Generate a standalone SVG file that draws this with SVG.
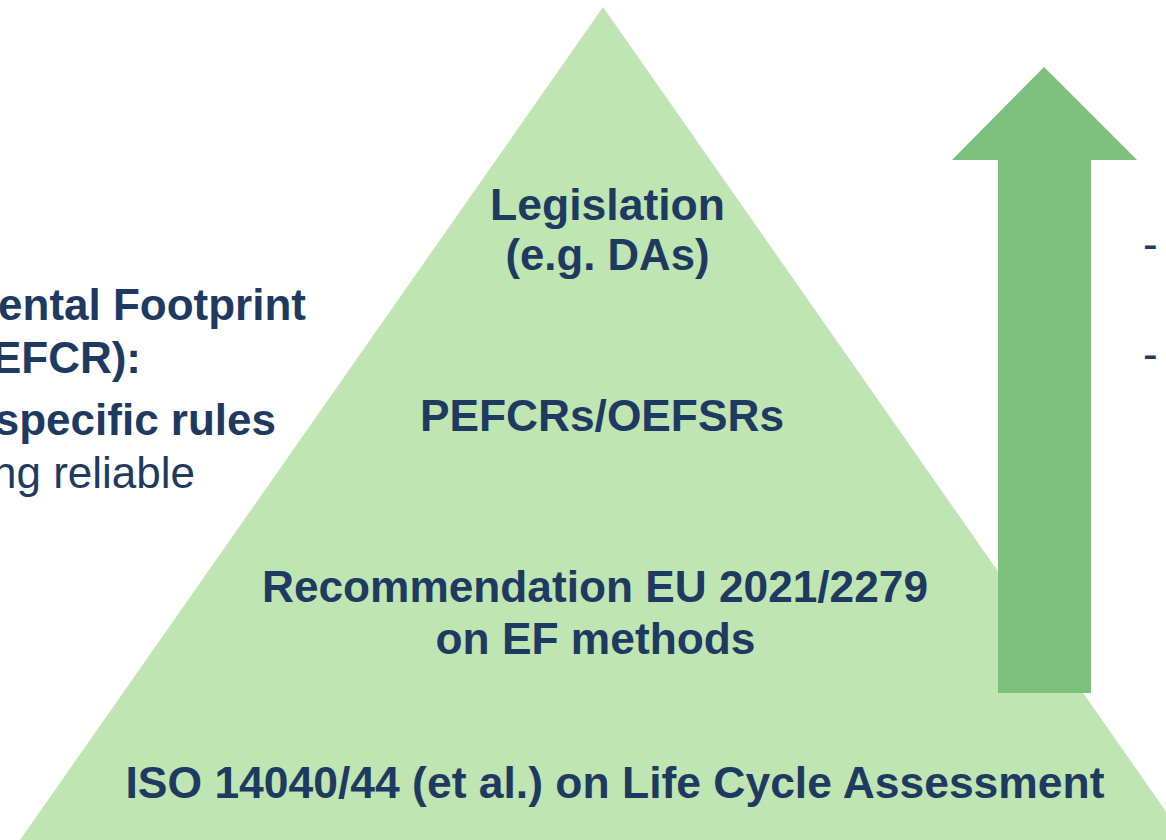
<svg xmlns="http://www.w3.org/2000/svg" width="1166" height="840" viewBox="0 0 1166 840">
  <style>
    .lbl { font-family: "Liberation Sans", Arial, sans-serif; font-weight: bold; font-size: 44.4px; fill: #1F3A60; text-anchor: middle; }
    .side { font-family: "Liberation Sans", Arial, sans-serif; font-weight: bold; font-size: 44px; fill: #1F3A60; text-anchor: end; }
    .side-reg { font-family: "Liberation Sans", Arial, sans-serif; font-size: 44px; fill: #1F3A60; text-anchor: end; }
    .dash { font-family: "Liberation Sans", Arial, sans-serif; font-size: 44px; fill: #1F3A60; }
  </style>
  <rect width="1166" height="840" fill="#FFFFFF"/>

  <!-- pyramid of EF rule levels -->
  <g id="pyramid">
    <polygon points="603,7 1186,840 20,840" fill="#BEE5B2"/>
  </g>

  <!-- upward arrow -->
  <g id="arrow">
    <polygon points="1044,67 1137,160 1091,160 1091,693 998,693 998,160 952,160" fill="#7DC07B"/>
  </g>

  <g id="level-legislation">
    <text class="lbl" x="607.5" y="220" textLength="235" lengthAdjust="spacingAndGlyphs">Legislation</text>
    <text class="lbl" x="607.5" y="270" textLength="204" lengthAdjust="spacingAndGlyphs">(e.g. DAs)</text>
  </g>
  <g id="level-pefcr">
    <text class="lbl" x="602" y="431" textLength="364" lengthAdjust="spacingAndGlyphs">PEFCRs/OEFSRs</text>
  </g>
  <g id="level-recommendation">
    <text class="lbl" x="595" y="602" textLength="666" lengthAdjust="spacingAndGlyphs">Recommendation EU 2021/2279</text>
    <text class="lbl" x="595.5" y="654" textLength="320" lengthAdjust="spacingAndGlyphs">on EF methods</text>
  </g>
  <g id="level-iso">
    <text class="lbl" x="615" y="798" textLength="979" lengthAdjust="spacingAndGlyphs">ISO 14040/44 (et al.) on Life Cycle Assessment</text>
  </g>

  <!-- left-hand description -->
  <g id="left-text">
    <text class="side" x="306" y="320">ental Footprint</text>
    <text class="side" x="141" y="373">EFCR):</text>
    <text class="side" x="276" y="435">specific rules</text>
    <text class="side-reg" x="195" y="488">ng reliable</text>
  </g>

  <!-- right-hand list markers -->
  <g id="right-text">
    <text class="dash" x="1143" y="259">-</text>
    <text class="dash" x="1143" y="369">-</text>
  </g>
</svg>
